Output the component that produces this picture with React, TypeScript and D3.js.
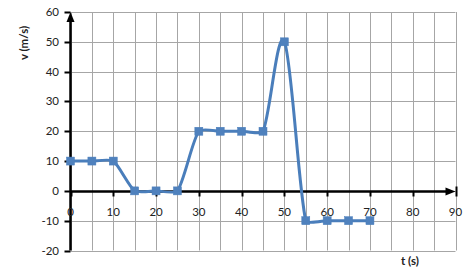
import React from "react";
import * as d3 from "d3";

const times = [0, 5, 10, 15, 20, 25, 30, 35, 40, 45, 50, 55, 60, 65, 70];
const velocities = [10, 10, 10, 0, 0, 0, 20, 20, 20, 20, 50, -10, -10, -10, -10];
const xTicks = [0, 10, 20, 30, 40, 50, 60, 70, 80, 90];
const xGrid = d3.range(0, 91, 5);
const yTicks = [-20, -10, 0, 10, 20, 30, 40, 50, 60];
const xTitle = "t (s)";
const yTitle = "v (m/s)";

// Excel-like smoothed line: Catmull-Rom style tangents with arms limited by segment length
function smoothPath(pts: [number, number][], k = 0.18): string {
  const p = d3.path();
  const n = pts.length;
  const dist = (a: [number, number], b: [number, number]) => Math.hypot(b[0] - a[0], b[1] - a[1]);
  const tangents = pts.map((_, i) => {
    const a = pts[Math.max(0, i - 1)];
    const b = pts[Math.min(n - 1, i + 1)];
    return [(b[0] - a[0]) / 6, (b[1] - a[1]) / 6] as [number, number];
  });
  p.moveTo(pts[0][0], pts[0][1]);
  for (let i = 0; i < n - 1; i++) {
    const P1 = pts[i], P2 = pts[i + 1];
    const len = dist(P1, P2);
    const t1 = tangents[i], t2 = tangents[i + 1];
    const l1 = Math.hypot(t1[0], t1[1]) || 1;
    const l2 = Math.hypot(t2[0], t2[1]) || 1;
    const s1 = Math.min(1, (k * len) / l1);
    const s2 = Math.min(1, (k * len) / l2);
    p.bezierCurveTo(
      P1[0] + t1[0] * s1, P1[1] + t1[1] * s1,
      P2[0] - t2[0] * s2, P2[1] - t2[1] * s2,
      P2[0], P2[1]
    );
  }
  return p.toString();
}

export default function App() {
  const W = 475, H = 276;
  const x = d3.scaleLinear().domain([0, 90]).range([70.5, 455.5]);
  const y = d3.scaleLinear().domain([-20, 60]).range([250.5, 12]);
  const pts: [number, number][] = times.map((t, i) => [x(t), y(velocities[i])]);
  const line = smoothPath(pts);
  const font = "Lato, 'Open Sans', sans-serif";
  const blue = "#4A7EBB";
  const y0 = Math.round(y(0)) + 0.5;
  return (
    <svg width={W} height={H} style={{ position: "absolute", left: 0, top: 0, background: "#fff" }}>
      <rect width={W} height={H} fill="#fff" />
      {xGrid.map((v) => (
        <line key={"gx" + v} x1={Math.round(x(v)) + 0.5} x2={Math.round(x(v)) + 0.5} y1={y(60)} y2={y(-20)} stroke="#a6a6a6" strokeWidth={1} />
      ))}
      {yTicks.map((v) => (
        <line key={"gy" + v} x1={x(0)} x2={x(90)} y1={Math.round(y(v)) + 0.5} y2={Math.round(y(v)) + 0.5} stroke="#a6a6a6" strokeWidth={1} />
      ))}
      {/* y axis */}
      <line x1={x(0)} x2={x(0)} y1={y(-20)} y2={y(60) + 8} stroke="#000" strokeWidth={2.5} />
      <path d={`M${x(0)},${y(60)} L${x(0) - 4},${y(60) + 10} L${x(0) + 4},${y(60) + 10} Z`} fill="#000" />
      {yTicks.map((v) => (
        <g key={"yt" + v}>
          <line x1={x(0) - 6} x2={x(0)} y1={Math.round(y(v)) + 0.5} y2={Math.round(y(v)) + 0.5} stroke="#000" strokeWidth={2} />
          <text x={59} y={y(v)} dy="0.35em" textAnchor="end" fontFamily={font} fontSize={11.5} fill="#222">{v}</text>
        </g>
      ))}
      {/* x axis */}
      <line x1={x(0)} x2={x(90) - 8} y1={y0} y2={y0} stroke="#000" strokeWidth={2.5} />
      <path d={`M${x(90)},${y0} L${x(90) - 10},${y0 - 4} L${x(90) - 10},${y0 + 4} Z`} fill="#000" />
      {xTicks.map((v) => (
        <g key={"xt" + v}>
          <line x1={Math.round(x(v)) + 0.5} x2={Math.round(x(v)) + 0.5} y1={y0 - (v === 90 ? 5 : 0)} y2={y0 + 5} stroke="#000" strokeWidth={2} />
          <text x={x(v)} y={216} textAnchor="middle" fontFamily={font} fontSize={11.5} fill="#222">{v}</text>
        </g>
      ))}
      <path d={line} fill="none" stroke={blue} strokeWidth={3} strokeLinejoin="round" />
      {pts.map(([px, py], i) => (
        <rect key={"m" + i} x={px - 4} y={py - 4} width={8} height={8} fill="#4F81BD" stroke={blue} strokeWidth={0.5} />
      ))}
      <text x={410} y={265} textAnchor="middle" fontFamily={font} fontSize={11.5} fontWeight="bold" fill="#222">{xTitle}</text>
      <text transform="translate(28,43) rotate(-90)" textAnchor="middle" fontFamily={font} fontSize={11.5} fontWeight="bold" fill="#222">{yTitle}</text>
    </svg>
  );
}
